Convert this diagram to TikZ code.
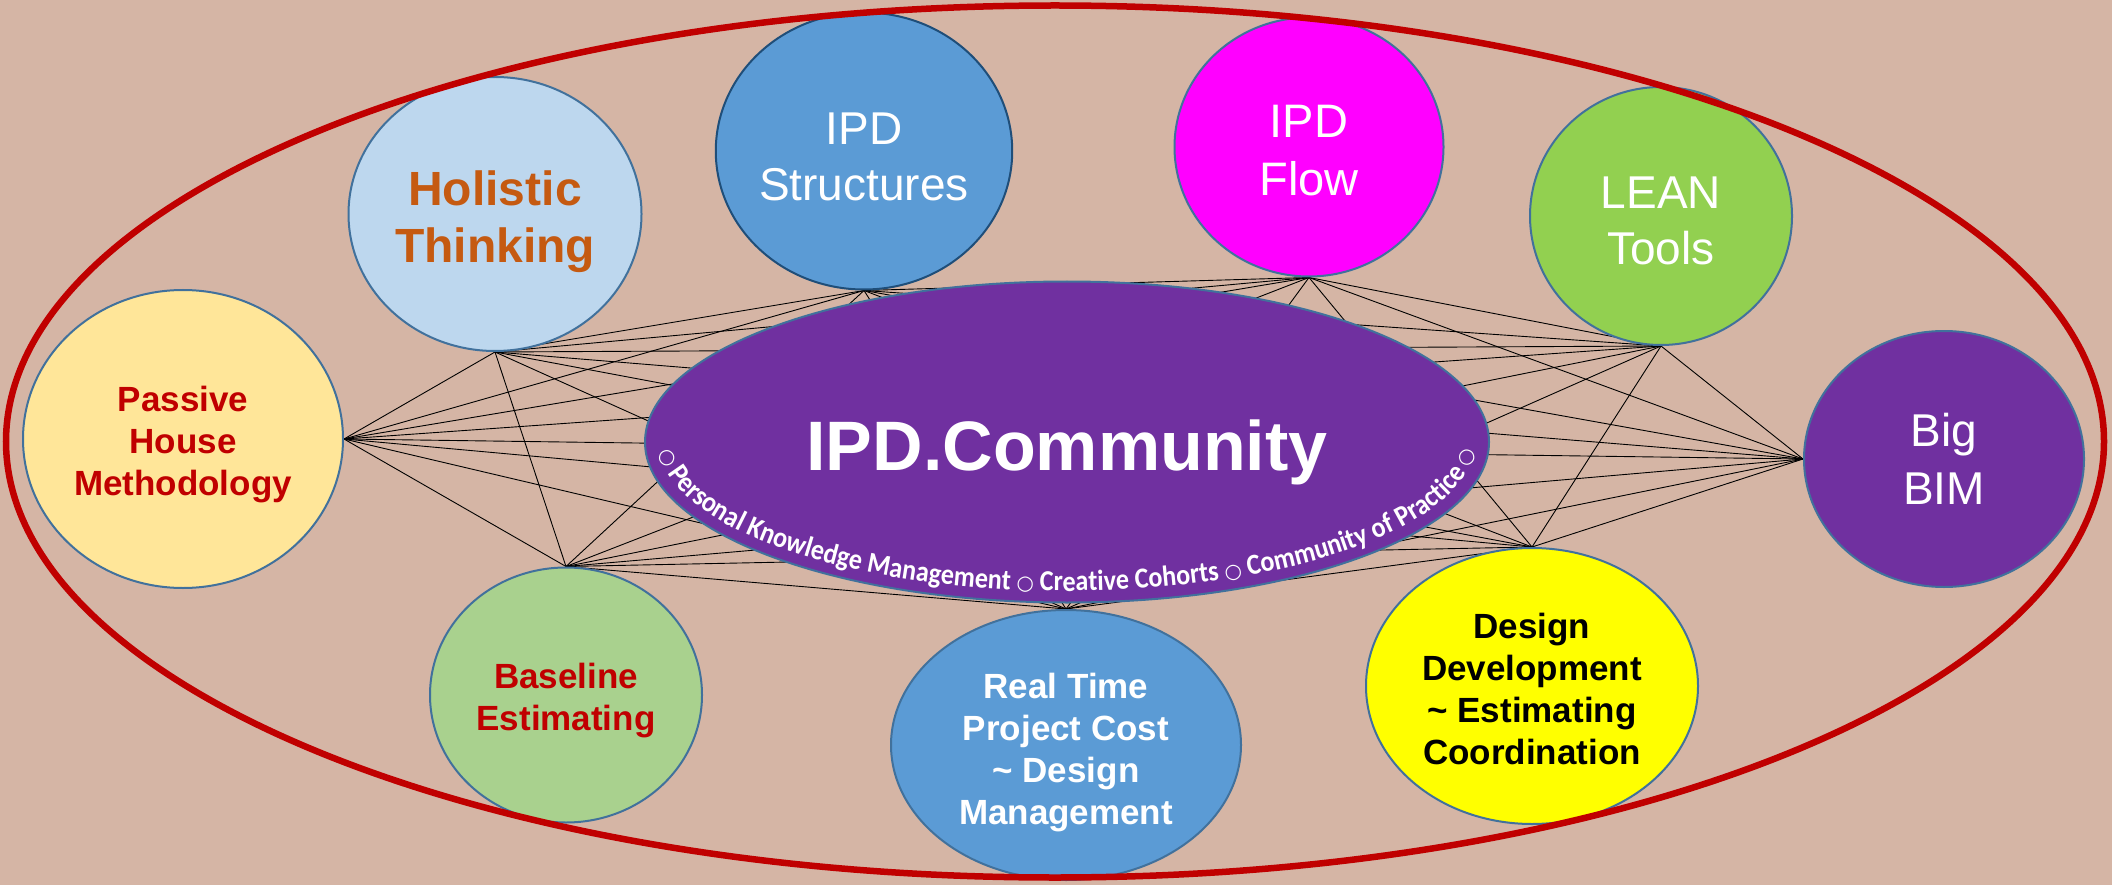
\documentclass[tikz,border=0pt]{standalone}
\usepackage{fontspec}
\setmainfont{Liberation Sans}
\newfontfamily\carlitoF{Carlito}[FakeStretch=0.9]
\newfontfamily\dejaF{DejaVu Sans}
\usetikzlibrary{shapes.geometric,decorations.text}
\pgfdeclarelayer{back}
\pgfdeclarelayer{links}
\pgfsetlayers{back,links,main}
\definecolor{bgtan}{RGB}{213,181,165}
\definecolor{ringred}{RGB}{192,0,0}
\definecolor{bord}{RGB}{65,113,156}
\definecolor{bordd}{RGB}{31,78,121}
\definecolor{phfill}{RGB}{255,230,153}
\definecolor{htfill}{RGB}{189,215,238}
\definecolor{httext}{RGB}{197,90,17}
\definecolor{bluefill}{RGB}{91,155,213}
\definecolor{magfill}{RGB}{255,0,255}
\definecolor{leanfill}{RGB}{146,208,80}
\definecolor{purp}{RGB}{112,48,160}
\definecolor{yelfill}{RGB}{255,255,0}
\definecolor{bestfill}{RGB}{169,209,142}
\newcommand\curvefont{\carlitoF\bfseries\fontsize{29}{33}\selectfont}
\newcommand\ringsym{\dejaF\fontsize{20}{24}\selectfont}
\newcommand\pushdown[1]{\rule{0pt}{#1pt}}
\begin{document}
\begin{tikzpicture}[x=1pt,y=-1pt,
  bub/.style={ellipse, draw=bord, line width=2pt, inner sep=0pt, align=center},
  bigtxt/.style={font=\fontsize{46}{56}\selectfont, text=white},
  boldtxt/.style={font=\bfseries\fontsize{35}{42}\selectfont},
  link/.style={draw=black, line width=0.9pt},
  ring/.style={draw=ringred, line width=6.5pt}]
\begin{pgfonlayer}{back}
\fill[bgtan] (0,0) rectangle (2112,885);
\end{pgfonlayer}
\useasboundingbox (0,0) rectangle (2112,885);

\node[bub, fill=phfill, minimum width=320, minimum height=298, boldtxt, text=ringred] (PH) at (183,439) {\pushdown{37}Passive\\House\\Methodology};
\node[bub, fill=htfill, minimum width=293, minimum height=274, font=\bfseries\fontsize{48}{57}\selectfont, text=httext] (HT) at (495,214) {\pushdown{51}Holistic\\Thinking};
\node[bub, draw=bordd, fill=bluefill, minimum width=290, minimum height=277, bigtxt] (ST) at (864,151) {\pushdown{43}IPD\\Structures};
\node[bub, fill=magfill, minimum width=269, minimum height=259, bigtxt, font=\fontsize{47}{58}\selectfont] (FL) at (1309,147) {\pushdown{40}IPD\\Flow};
\node[bub, fill=leanfill, minimum width=262, minimum height=258, bigtxt] (LE) at (1661,216) {\pushdown{41}LEAN\\Tools};
\node[bub, fill=purp, minimum width=280, minimum height=256, bigtxt, font=\fontsize{46}{58}\selectfont] (BB) at (1944,459) {Big\\BIM};
\node[bub, fill=yelfill, minimum width=332, minimum height=276, boldtxt, text=black] (DD) at (1532,686) {\pushdown{31}Design\\Development\\\textasciitilde{} Estimating\\Coordination};
\node[bub, fill=bluefill, minimum width=350, minimum height=270, boldtxt, text=white] (RT) at (1066,745) {\pushdown{40}Real Time\\Project Cost\\\textasciitilde{} Design\\Management};
\node[bub, fill=bestfill, minimum width=272, minimum height=255, boldtxt, text=ringred] (BE) at (566,695) {\pushdown{37}Baseline\\Estimating};

\begin{pgfonlayer}{links}
\foreach [count=\i] \a in {PH.east,HT.south,ST.south,FL.south,LE.south,BB.west,DD.north,RT.north,BE.north}{
  \foreach [count=\j] \b in {PH.east,HT.south,ST.south,FL.south,LE.south,BB.west,DD.north,RT.north,BE.north}{
    \ifnum\i<\j \draw[link] (\a) -- (\b);\fi
  }}
\end{pgfonlayer}

\node[bub, fill=purp, minimum width=844, minimum height=321] (C) at (1067,442) {};
\node[font=\bfseries\fontsize{70}{80}\selectfont, text=white, anchor=base] (CT) at (1067,470) {IPD.Community};
\path[decorate, decoration={text along path, text align=center, text color=white,
  text={|\ringsym|○|\curvefont| Personal Knowledge Management |\ringsym|○|\curvefont| Creative Cohorts |\ringsym|○|\curvefont| Community of Practice |\ringsym|○}}]
  (C.center) ++(-408,0) arc[start angle=180, end angle=0, x radius=408, y radius=149];

\draw[ring] (1055,441.5) ellipse [x radius=1049, y radius=436];
\end{tikzpicture}
\end{document}
